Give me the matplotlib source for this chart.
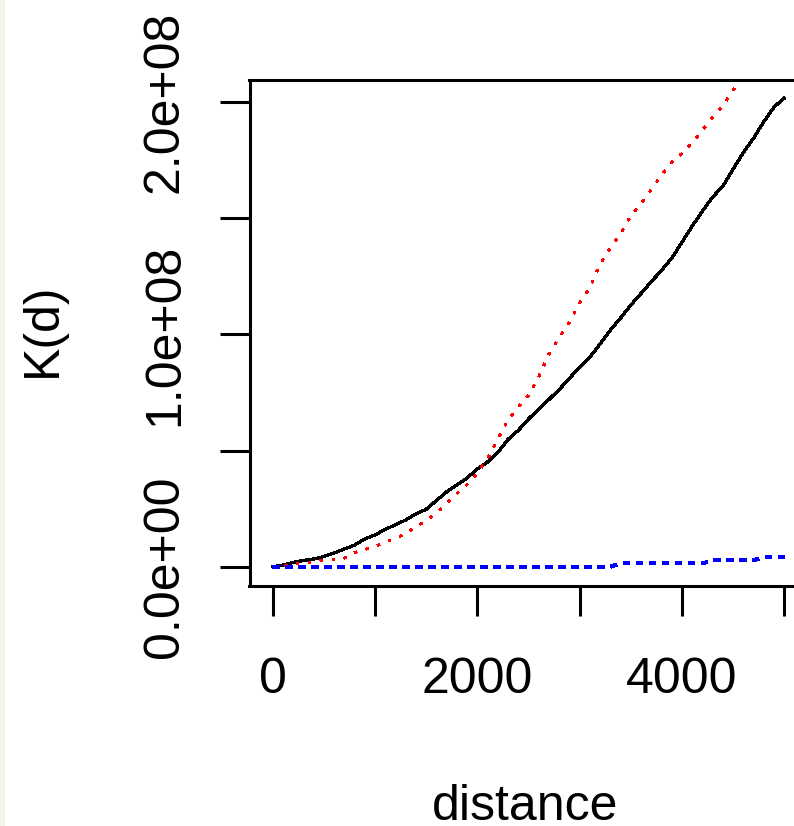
import matplotlib
matplotlib.use("Agg")
import matplotlib.pyplot as plt
from matplotlib.patches import Rectangle

# ---- data (K values in units of 1e6) ----
distance = list(range(0, 5001, 100))
k_observed = [0, 0.7, 1.8, 2.7, 3.3, 4.4, 5.9, 7.6, 9.3, 11.9,
              13.7, 16.0, 18.1, 20.1, 22.7, 24.7, 28.5, 32.2, 35.2, 38.2,
              42.1, 45.1, 49.2, 54.8, 58.7, 63.6, 67.9, 72.0, 76.3, 81.1,
              86.0, 90.3, 95.9, 101.9, 107.1, 112.7, 117.7, 122.8, 127.6, 132.9,
              139.8, 146.7, 153.2, 159.2, 164.0, 171.3, 178.4, 184.6, 191.7, 198.0,
              201.8]
distance_upper = list(range(0, 4701, 100))
k_upper = [0, 0.5, 1.2, 1.6, 1.8, 2.9, 2.9, 3.7, 6.1, 7.4,
           8.6, 10.8, 12.1, 14.3, 17.3, 19.7, 23.1, 27.2, 31.5, 35.4,
           40.1, 46.6, 54.8, 63.2, 68.8, 73.9, 81.7, 91.6, 98.7, 105.2,
           113.6, 120.2, 130.4, 137.3, 143.5, 151.2, 156.4, 162.4, 168.7, 174.3,
           177.9, 182.5, 188.1, 193.5, 198.4, 205.3, 212.0, 219.0]
k_lower = [0] * 34 + [1.4] * 9 + [2.75] * 5 + [4.3] * 3

x_ticks = [0, 1000, 2000, 3000, 4000, 5000]
x_labels = ["0", "", "2000", "", "4000", ""]
y_ticks = [0, 5e7, 1e8, 1.5e8, 2e8]
y_labels = ["0.0e+00", "", "1.0e+08", "", "2.0e+08"]

plt.rcParams["font.family"] = ["Liberation Sans", "DejaVu Sans"]

W, H = 794, 826
fig = plt.figure(figsize=(W / 100, H / 100), dpi=100)
fig.patches.append(Rectangle((0, 0), 5 / W, 1, transform=fig.transFigure,
                             facecolor="#f7f3ec", edgecolor="none"))

left, right, top, bottom = 249.5, 797.0, 79.5, 585.8
ax = fig.add_axes([left / W, 1 - bottom / H, (right - left) / W, (bottom - top) / H])

scale = 1e6
ax.plot(distance, [v * scale for v in k_observed], color="black", lw=1.6,
        antialiased=False)
ax.plot(distance_upper, [v * scale for v in k_upper], color="red", lw=1.6,
        ls=(0, (1.3, 4.2)), antialiased=False)
ax.plot(distance, [v * scale for v in k_lower], color="blue", lw=2.0,
        ls=(0, (2.2, 2.45)), antialiased=False)

ax.set_xlim(-225.7, 5123)
ax.set_ylim(-8.23e6, 2.098e8)

ax.spines["right"].set_visible(False)
for s in ("left", "top", "bottom"):
    ax.spines[s].set_linewidth(2.2)
    ax.spines[s].set_color("black")
    ax.spines[s].set_capstyle("projecting")

ax.set_xticks(x_ticks)
ax.set_xticklabels(x_labels)
ax.set_yticks(y_ticks)
ax.set_yticklabels(y_labels)
ax.tick_params(axis="both", length=21.5, width=2.2, labelsize=36, colors="black")
ax.tick_params(axis="x", pad=30)
ax.tick_params(axis="y", pad=30)
plt.setp(ax.get_yticklabels(), rotation=90, rotation_mode="anchor",
         ha="center", va="baseline")

fig.text(525 / W, 1 - 820 / H, "distance", ha="center", va="baseline", fontsize=36)
fig.text(56 / W, 1 - 330 / H, "K(d)", ha="center", va="baseline", fontsize=36,
         rotation=90, rotation_mode="anchor")

fig.savefig("out.png", dpi=100)
